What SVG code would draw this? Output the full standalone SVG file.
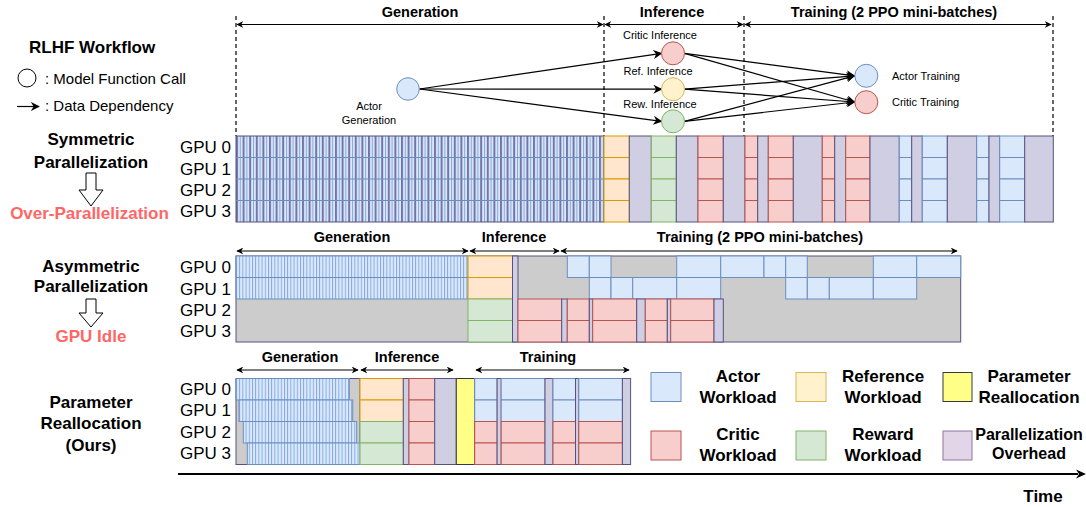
<svg xmlns="http://www.w3.org/2000/svg" width="1086" height="507" viewBox="0 0 1086 507">
<style>
text{font-family:"Liberation Sans",Arial,sans-serif;fill:#000}
.b{font-weight:bold}
.h{font-size:14.5px;font-weight:bold;text-anchor:middle}
.lab{font-size:17px;font-weight:bold;text-anchor:middle}
.red{fill:#ff6666}
.gpu{font-size:17px}
.sm{font-size:11px}
.leg{font-size:15px}
.act{fill:#dae8fc;stroke:#6c8ebf;stroke-width:1}
.ref{fill:#ffe6cc;stroke:#d79b00;stroke-width:1}
.rew{fill:#d5e8d4;stroke:#82b366;stroke-width:1}
.cri{fill:#f8cecc;stroke:#b85450;stroke-width:1}
.ovh{fill:#d0cee2;stroke:#56517e;stroke-width:1}
.par{fill:#ffff88;stroke:#36393d;stroke-width:1}
.idle{fill:#cccccc;stroke:none}
.dash{stroke:#000;stroke-width:1.2;stroke-dasharray:4 3;fill:none}
.span{stroke:#000;stroke-width:1;fill:none;marker-start:url(#ah);marker-end:url(#ah)}
.dep{stroke:#000;stroke-width:1.2;fill:none;marker-end:url(#dh)}
.hol{fill:#fff;stroke:#000;stroke-width:1}
</style>
<defs>
<marker id="ah" viewBox="0 0 10 10" refX="9" refY="5" markerWidth="7" markerHeight="7" markerUnits="userSpaceOnUse" orient="auto-start-reverse"><path d="M0,0 L10,5 L0,10 L3,5 Z" fill="#000"/></marker>
<marker id="dh" viewBox="0 0 10 10" refX="9" refY="5" markerWidth="9" markerHeight="9" markerUnits="userSpaceOnUse" orient="auto"><path d="M0,0 L10,5 L0,10 L3,5 Z" fill="#000"/></marker>
<pattern id="g1" patternUnits="userSpaceOnUse" x="236" y="0" width="6.6" height="10"><rect width="6.6" height="10" fill="#dae8fc"/><rect x="0" width="2" height="10" fill="#7375a8"/><rect x="3.9" width="0.9" height="10" fill="#7ea0d0"/></pattern>
<pattern id="g2" patternUnits="userSpaceOnUse" x="236" y="0" width="3.2" height="10"><rect width="3.2" height="10" fill="#dae8fc"/><rect x="0" width="0.9" height="10" fill="#7ea6e0"/></pattern>
</defs>

<!-- top legend -->
<g id="legend-workflow">
<text x="29" y="53" class="b" style="font-size:17px">RLHF Workflow</text>
<circle cx="27" cy="78" r="9" fill="none" stroke="#000" stroke-width="1"/>
<text x="45" y="83.5" class="leg">: Model Function Call</text>
<line x1="17" y1="106.5" x2="39" y2="106.5" stroke="#000" stroke-width="1.2" marker-end="url(#dh)"/>
<text x="45" y="110.5" class="leg">: Data Dependency</text>
</g>

<!-- phase spans top -->
<g id="phases-top">
<line class="dash" x1="236" y1="16" x2="236" y2="136"/>
<line class="dash" x1="604" y1="16" x2="604" y2="136"/>
<line class="dash" x1="744" y1="16" x2="744" y2="136"/>
<line class="dash" x1="1053" y1="16" x2="1053" y2="136"/>
<line class="span" x1="237" y1="24.5" x2="603" y2="24.5"/>
<line class="span" x1="605" y1="24.5" x2="743" y2="24.5"/>
<line class="span" x1="745" y1="24.5" x2="1051" y2="24.5"/>
<text x="420" y="16.5" class="h">Generation</text>
<text x="672" y="16.5" class="h">Inference</text>
<text x="894" y="16.5" class="h">Training (2 PPO mini-batches)</text>
</g>

<!-- workflow graph connectors -->
<g id="connectors">
<line class="dep" x1="419.5" y1="89" x2="661.5" y2="53.3"/>
<line class="dep" x1="419.5" y1="89" x2="661.5" y2="89.2"/>
<line class="dep" x1="419.5" y1="89" x2="661.5" y2="121.3"/>
<line class="dep" x1="684.5" y1="53.3" x2="854.5" y2="75.8"/>
<line class="dep" x1="684.5" y1="53.3" x2="854.5" y2="102"/>
<line class="dep" x1="684.5" y1="89.2" x2="854.5" y2="75.8"/>
<line class="dep" x1="684.5" y1="89.2" x2="854.5" y2="102"/>
<line class="dep" x1="684.5" y1="121.3" x2="854.5" y2="75.8"/>
<line class="dep" x1="684.5" y1="121.3" x2="854.5" y2="102"/>
</g>

<g id="node-actor-gen">
<circle cx="408" cy="89" r="11.3" fill="#dae8fc" stroke="#6c8ebf"/>
<text x="369" y="110" class="sm" text-anchor="middle">Actor</text>
<text x="369" y="124" class="sm" text-anchor="middle">Generation</text>
</g>
<g id="node-critic-inf">
<circle cx="673" cy="53.3" r="11.5" fill="#f8cecc" stroke="#b85450"/>
<text x="660" y="39" class="sm" text-anchor="middle">Critic Inference</text>
</g>
<g id="node-ref-inf">
<circle cx="673" cy="89.2" r="11.5" fill="#fff2cc" stroke="#d6b656"/>
<text x="658" y="74.5" class="sm" text-anchor="middle">Ref. Inference</text>
</g>
<g id="node-rew-inf">
<circle cx="673" cy="121.3" r="11.5" fill="#d5e8d4" stroke="#82b366"/>
<text x="660" y="108" class="sm" text-anchor="middle">Rew. Inference</text>
</g>
<g id="node-actor-train">
<circle cx="866.3" cy="75.8" r="11.5" fill="#dae8fc" stroke="#6c8ebf"/>
<text x="892" y="80" class="sm">Actor Training</text>
</g>
<g id="node-critic-train">
<circle cx="866.3" cy="102.2" r="11.5" fill="#f8cecc" stroke="#b85450"/>
<text x="892" y="106" class="sm">Critic Training</text>
</g>

<!-- Row 1: symmetric -->
<g id="row1-labels">
<text x="91" y="145" class="lab">Symmetric</text>
<text x="91" y="167.5" class="lab">Parallelization</text>
<path class="hol" d="M86,173 H96 V190 H103 L91,206 L79,190 H86 Z"/>
<text x="89.5" y="219" class="lab red">Over-Parallelization</text>
<text x="231" y="153" class="gpu" text-anchor="end">GPU 0</text>
<text x="231" y="174.5" class="gpu" text-anchor="end">GPU 1</text>
<text x="231" y="195.5" class="gpu" text-anchor="end">GPU 2</text>
<text x="231" y="216.5" class="gpu" text-anchor="end">GPU 3</text>
</g>
<g id="row1-chart">
<rect x="236" y="136" width="368" height="86" fill="url(#g1)" stroke="#56517e" stroke-width="1"/>
<line x1="236" y1="157.5" x2="604" y2="157.5" stroke="#6c8ebf"/>
<line x1="236" y1="179" x2="604" y2="179" stroke="#6c8ebf"/>
<line x1="236" y1="200.5" x2="604" y2="200.5" stroke="#6c8ebf"/>
<rect class="ref" x="604" y="136" width="25.3" height="21.5"/><rect class="ref" x="604" y="157.5" width="25.3" height="21.5"/><rect class="ref" x="604" y="179" width="25.3" height="21.5"/><rect class="ref" x="604" y="200.5" width="25.3" height="21.5"/>
<rect class="ovh" x="629.3" y="136" width="22" height="86"/>
<rect class="rew" x="651.3" y="136" width="25" height="21.5"/><rect class="rew" x="651.3" y="157.5" width="25" height="21.5"/><rect class="rew" x="651.3" y="179" width="25" height="21.5"/><rect class="rew" x="651.3" y="200.5" width="25" height="21.5"/>
<rect class="ovh" x="676.3" y="136" width="21.7" height="86"/>
<rect class="cri" x="698" y="136" width="25.3" height="21.5"/><rect class="cri" x="698" y="157.5" width="25.3" height="21.5"/><rect class="cri" x="698" y="179" width="25.3" height="21.5"/><rect class="cri" x="698" y="200.5" width="25.3" height="21.5"/>
<rect class="ovh" x="723.3" y="136" width="21.7" height="86"/>
<rect class="cri" x="745" y="136" width="12.7" height="21.5"/><rect class="cri" x="745" y="157.5" width="12.7" height="21.5"/><rect class="cri" x="745" y="179" width="12.7" height="21.5"/><rect class="cri" x="745" y="200.5" width="12.7" height="21.5"/>
<rect class="ovh" x="757.7" y="136" width="10.6" height="86"/>
<rect class="cri" x="768.3" y="136" width="25" height="21.5"/><rect class="cri" x="768.3" y="157.5" width="25" height="21.5"/><rect class="cri" x="768.3" y="179" width="25" height="21.5"/><rect class="cri" x="768.3" y="200.5" width="25" height="21.5"/>
<rect class="ovh" x="793.3" y="136" width="29" height="86"/>
<rect class="cri" x="822.3" y="136" width="12.4" height="21.5"/><rect class="cri" x="822.3" y="157.5" width="12.4" height="21.5"/><rect class="cri" x="822.3" y="179" width="12.4" height="21.5"/><rect class="cri" x="822.3" y="200.5" width="12.4" height="21.5"/>
<rect class="ovh" x="834.7" y="136" width="11" height="86"/>
<rect class="cri" x="845.7" y="136" width="24.3" height="21.5"/><rect class="cri" x="845.7" y="157.5" width="24.3" height="21.5"/><rect class="cri" x="845.7" y="179" width="24.3" height="21.5"/><rect class="cri" x="845.7" y="200.5" width="24.3" height="21.5"/>
<rect class="ovh" x="870" y="136" width="29.3" height="86"/>
<rect class="act" x="899.3" y="136" width="12.4" height="21.5"/><rect class="act" x="899.3" y="157.5" width="12.4" height="21.5"/><rect class="act" x="899.3" y="179" width="12.4" height="21.5"/><rect class="act" x="899.3" y="200.5" width="12.4" height="21.5"/>
<rect class="ovh" x="911.7" y="136" width="10.6" height="86"/>
<rect class="act" x="922.3" y="136" width="25" height="21.5"/><rect class="act" x="922.3" y="157.5" width="25" height="21.5"/><rect class="act" x="922.3" y="179" width="25" height="21.5"/><rect class="act" x="922.3" y="200.5" width="25" height="21.5"/>
<rect class="ovh" x="947.3" y="136" width="29.4" height="86"/>
<rect class="act" x="976.7" y="136" width="12.3" height="21.5"/><rect class="act" x="976.7" y="157.5" width="12.3" height="21.5"/><rect class="act" x="976.7" y="179" width="12.3" height="21.5"/><rect class="act" x="976.7" y="200.5" width="12.3" height="21.5"/>
<rect class="ovh" x="989" y="136" width="10.7" height="86"/>
<rect class="act" x="999.7" y="136" width="25" height="21.5"/><rect class="act" x="999.7" y="157.5" width="25" height="21.5"/><rect class="act" x="999.7" y="179" width="25" height="21.5"/><rect class="act" x="999.7" y="200.5" width="25" height="21.5"/>
<rect class="ovh" x="1024.7" y="136" width="28.6" height="86"/>
</g>

<!-- Row 2: asymmetric -->
<g id="row2-labels">
<text x="91" y="272" class="lab">Asymmetric</text>
<text x="91" y="292" class="lab">Parallelization</text>
<path class="hol" d="M86,299 H96 V313 H103 L91,327 L79,313 H86 Z"/>
<text x="91" y="342" class="lab red">GPU Idle</text>
<text x="231" y="273" class="gpu" text-anchor="end">GPU 0</text>
<text x="231" y="294.5" class="gpu" text-anchor="end">GPU 1</text>
<text x="231" y="315.5" class="gpu" text-anchor="end">GPU 2</text>
<text x="231" y="336.5" class="gpu" text-anchor="end">GPU 3</text>
</g>
<g id="row2-phases">
<line class="span" x1="237" y1="251" x2="468" y2="251"/>
<line class="span" x1="470" y1="251" x2="559" y2="251"/>
<line class="span" x1="561" y1="251" x2="957" y2="251"/>
<text x="352" y="242" class="h">Generation</text>
<text x="514" y="242" class="h">Inference</text>
<text x="760" y="242" class="h">Training (2 PPO mini-batches)</text>
</g>
<g id="row2-chart">
<rect x="236" y="256" width="724.7" height="86" fill="#cccccc" stroke="#56517e" stroke-width="1"/>
<rect x="236" y="256" width="232" height="43" fill="url(#g2)" stroke="#6c8ebf"/>
<line x1="236" y1="277.5" x2="468" y2="277.5" stroke="#6c8ebf"/>
<rect class="ref" x="468" y="256" width="44.5" height="21.5"/><rect class="ref" x="468" y="277.5" width="44.5" height="21.5"/>
<rect class="rew" x="468" y="299" width="44.5" height="21.5"/><rect class="rew" x="468" y="320.5" width="44.5" height="21.5"/>
<rect class="ovh" x="512.5" y="256" width="5.5" height="86"/>
<rect class="act" x="567.3" y="256" width="22" height="21.5"/>
<rect class="act" x="589.3" y="256" width="21.7" height="21.5"/>
<rect class="act" x="676.7" y="256" width="44" height="21.5"/>
<rect class="act" x="720.7" y="256" width="43.3" height="21.5"/>
<rect class="act" x="764" y="256" width="21.7" height="21.5"/>
<rect class="act" x="785.7" y="256" width="21.6" height="21.5"/>
<rect class="act" x="873.3" y="256" width="43.4" height="21.5"/>
<rect class="act" x="916.7" y="256" width="44" height="21.5"/>
<rect class="act" x="589.3" y="277.5" width="21.7" height="21.5"/>
<rect class="act" x="611" y="277.5" width="21.7" height="21.5"/>
<rect class="act" x="632.7" y="277.5" width="44" height="21.5"/>
<rect class="act" x="676.7" y="277.5" width="44" height="21.5"/>
<rect class="act" x="785.7" y="277.5" width="21.6" height="21.5"/>
<rect class="act" x="807.3" y="277.5" width="22" height="21.5"/>
<rect class="act" x="829.3" y="277.5" width="44" height="21.5"/>
<rect class="act" x="873.3" y="277.5" width="43.4" height="21.5"/>
<rect class="cri" x="518" y="299" width="43.7" height="21.5"/><rect class="cri" x="518" y="320.5" width="43.7" height="21.5"/>
<rect class="ovh" x="561.7" y="299" width="5.6" height="43"/>
<rect class="cri" x="567.3" y="299" width="22" height="21.5"/><rect class="cri" x="567.3" y="320.5" width="22" height="21.5"/>
<rect class="ovh" x="589.3" y="299" width="3.4" height="43"/>
<rect class="cri" x="592.7" y="299" width="44" height="21.5"/><rect class="cri" x="592.7" y="320.5" width="44" height="21.5"/>
<rect class="ovh" x="636.7" y="299" width="8.6" height="43"/>
<rect class="cri" x="645.3" y="299" width="22" height="21.5"/><rect class="cri" x="645.3" y="320.5" width="22" height="21.5"/>
<rect class="ovh" x="667.3" y="299" width="3.4" height="43"/>
<rect class="cri" x="670.7" y="299" width="43.3" height="21.5"/><rect class="cri" x="670.7" y="320.5" width="43.3" height="21.5"/>
<rect class="ovh" x="714" y="299" width="9.3" height="43"/>
</g>

<!-- Row 3: parameter reallocation -->
<g id="row3-labels">
<text x="91" y="408" class="lab">Parameter</text>
<text x="91" y="429" class="lab">Reallocation</text>
<text x="91" y="451" class="lab">(Ours)</text>
<text x="231" y="394.5" class="gpu" text-anchor="end">GPU 0</text>
<text x="231" y="416" class="gpu" text-anchor="end">GPU 1</text>
<text x="231" y="437.5" class="gpu" text-anchor="end">GPU 2</text>
<text x="231" y="459" class="gpu" text-anchor="end">GPU 3</text>
</g>
<g id="row3-phases">
<line class="span" x1="237" y1="370" x2="358" y2="370"/>
<line class="span" x1="361" y1="370" x2="453" y2="370"/>
<line class="span" x1="476" y1="370" x2="629" y2="370"/>
<text x="300" y="362" class="h">Generation</text>
<text x="407" y="362" class="h">Inference</text>
<text x="548" y="362" class="h">Training</text>
</g>
<g id="row3-chart">
<rect x="236" y="378.5" width="124" height="86" fill="#cccccc" stroke="#56517e" stroke-width="1"/>
<rect x="236" y="378.5" width="113.3" height="21.5" fill="url(#g2)" stroke="#6c8ebf"/>
<rect x="239" y="400" width="113.7" height="21.5" fill="url(#g2)" stroke="#6c8ebf"/>
<rect x="243.3" y="421.5" width="113.4" height="21.5" fill="url(#g2)" stroke="#6c8ebf"/>
<rect x="247.3" y="443" width="112.7" height="21.5" fill="url(#g2)" stroke="#6c8ebf"/>
<rect class="ref" x="360" y="378.5" width="43.3" height="21.5"/><rect class="ref" x="360" y="400" width="43.3" height="21.5"/>
<rect class="rew" x="360" y="421.5" width="43.3" height="21.5"/><rect class="rew" x="360" y="443" width="43.3" height="21.5"/>
<rect class="ovh" x="403.3" y="378.5" width="5.7" height="86"/>
<rect class="cri" x="409" y="378.5" width="25.7" height="21.5"/><rect class="cri" x="409" y="400" width="25.7" height="21.5"/><rect class="cri" x="409" y="421.5" width="25.7" height="21.5"/><rect class="cri" x="409" y="443" width="25.7" height="21.5"/>
<rect class="ovh" x="434.7" y="378.5" width="21.6" height="86"/>
<rect class="par" x="456.3" y="378.5" width="18.4" height="86"/>
<rect class="act" x="474.7" y="378.5" width="22.4" height="21.5"/><rect class="act" x="474.7" y="400" width="22.4" height="21.5"/><rect class="cri" x="474.7" y="421.5" width="22.4" height="21.5"/><rect class="cri" x="474.7" y="443" width="22.4" height="21.5"/>
<rect class="ovh" x="497.1" y="378.5" width="4.1" height="86"/>
<rect class="act" x="501.2" y="378.5" width="43.8" height="21.5"/><rect class="act" x="501.2" y="400" width="43.8" height="21.5"/><rect class="cri" x="501.2" y="421.5" width="43.8" height="21.5"/><rect class="cri" x="501.2" y="443" width="43.8" height="21.5"/>
<rect class="ovh" x="545" y="378.5" width="8" height="86"/>
<rect class="act" x="553" y="378.5" width="22.5" height="21.5"/><rect class="act" x="553" y="400" width="22.5" height="21.5"/><rect class="cri" x="553" y="421.5" width="22.5" height="21.5"/><rect class="cri" x="553" y="443" width="22.5" height="21.5"/>
<rect class="ovh" x="575.5" y="378.5" width="3.3" height="86"/>
<rect class="act" x="578.8" y="378.5" width="43.6" height="21.5"/><rect class="act" x="578.8" y="400" width="43.6" height="21.5"/><rect class="cri" x="578.8" y="421.5" width="43.6" height="21.5"/><rect class="cri" x="578.8" y="443" width="43.6" height="21.5"/>
<rect class="ovh" x="622.4" y="378.5" width="8.2" height="86"/>
</g>

<!-- colour legend -->
<g id="legend-colors">
<rect x="651" y="372.5" width="30" height="29" fill="#dae8fc" stroke="#6c8ebf"/>
<text x="738" y="382" class="lab">Actor</text>
<text x="738" y="403" class="lab">Workload</text>
<rect x="796" y="372.5" width="30" height="29" fill="#fff2cc" stroke="#d6b656"/>
<text x="883" y="382" class="lab">Reference</text>
<text x="883" y="403" class="lab">Workload</text>
<rect x="943" y="372.5" width="29" height="29" fill="#ffff88" stroke="#36393d"/>
<text x="1029" y="382" class="lab">Parameter</text>
<text x="1029" y="403" class="lab">Reallocation</text>
<rect x="651" y="431" width="30" height="29" fill="#f8cecc" stroke="#b85450"/>
<text x="738" y="440" class="lab">Critic</text>
<text x="738" y="461" class="lab">Workload</text>
<rect x="796" y="431" width="30" height="29" fill="#d5e8d4" stroke="#82b366"/>
<text x="883" y="440" class="lab">Reward</text>
<text x="883" y="461" class="lab">Workload</text>
<rect x="943" y="431" width="29" height="29" fill="#e1d5e7" stroke="#9673a6"/>
<text x="1029" y="440" class="lab" style="font-size:16px">Parallelization</text>
<text x="1029" y="458.5" class="lab" style="font-size:16px">Overhead</text>
</g>

<!-- time axis -->
<g id="time-axis">
<line x1="178" y1="474" x2="1078" y2="474" stroke="#000" stroke-width="2"/>
<path d="M1086,474 L1076,469.5 L1079,474 L1076,478.5 Z" fill="#000"/>
<text x="1043" y="501.5" class="lab">Time</text>
</g>
</svg>
